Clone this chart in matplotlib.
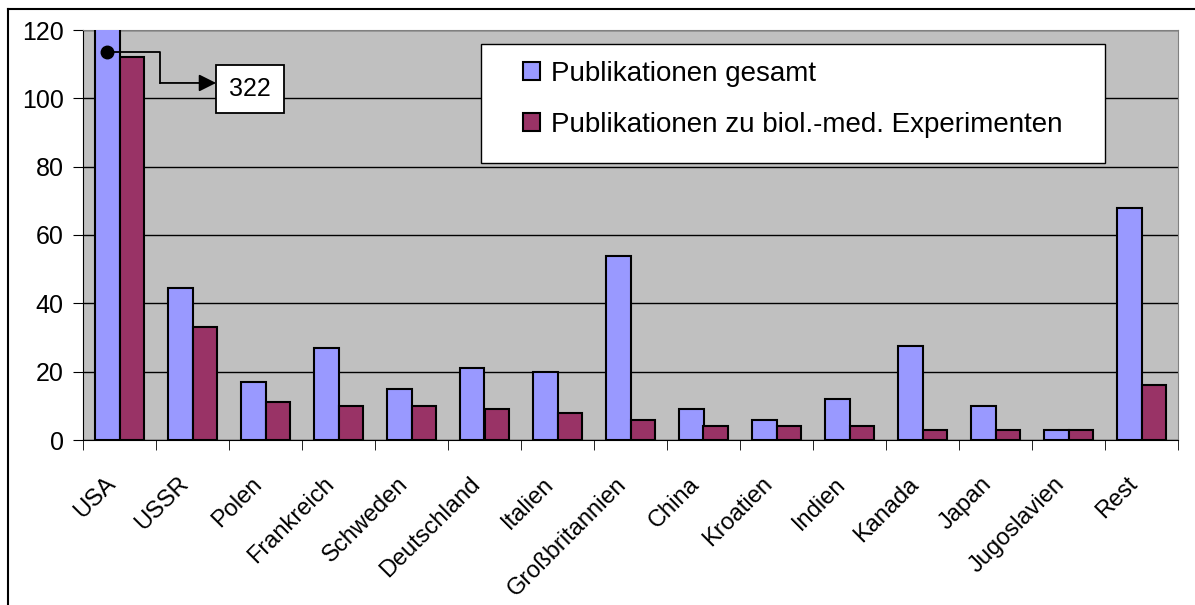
import matplotlib
matplotlib.use("Agg")
import matplotlib.pyplot as plt
import matplotlib.transforms as mtransforms
import numpy as np
from matplotlib.lines import Line2D
from matplotlib.patches import Rectangle

plt.rcParams["font.family"] = ["Liberation Sans", "DejaVu Sans"]

# data
countries = ["USA", "USSR", "Polen", "Frankreich", "Schweden", "Deutschland",
             "Italien", "Großbritannien", "China", "Kroatien", "Indien",
             "Kanada", "Japan", "Jugoslavien", "Rest"]
pub_total = [322, 44.5, 17, 27, 15, 21, 20, 54, 9, 6, 12, 27.5, 10, 3, 68]
pub_biomed = [112, 33, 11, 10, 10, 9, 8, 6, 4, 4, 4, 3, 3, 3, 16]
series_labels = ["Publikationen gesamt",
                 "Publikationen zu biol.-med. Experimenten"]
callout_text = "322"

BLUE = "#9999FF"
RED = "#993366"
GRAY = "#C0C0C0"
FS = 18

W, H = 1195, 605
fig = plt.figure(figsize=(W / 100, H / 100), dpi=100)
# outer chart frame (only top and left edge are inside the picture)
fig.add_artist(Line2D([8 / W, 1.0], [1 - 9 / H, 1 - 9 / H], color="black",
                      linewidth=1.5, transform=fig.transFigure))
fig.add_artist(Line2D([8 / W, 8 / W], [0.0, 1 - 9 / H], color="black",
                      linewidth=1.5, transform=fig.transFigure))

ax = fig.add_axes([83 / W, 165 / H, 1095 / W, 410 / H])
ax.set_facecolor(GRAY)

x = np.arange(len(countries))
bw = 0.342
ax.bar(x - bw / 2, pub_total, bw, color=BLUE, edgecolor="black",
       linewidth=1.5, label=series_labels[0], zorder=3)
ax.bar(x + bw / 2, pub_biomed, bw, color=RED, edgecolor="black",
       linewidth=1.5, label=series_labels[1], zorder=3)

ax.set_xlim(-0.5, len(countries) - 0.5)
ax.set_ylim(0, 120)
ax.set_yticks(np.arange(0, 121, 20))
ax.yaxis.grid(True, color="black", linewidth=1)
ax.set_axisbelow(True)
ax.tick_params(axis="y", labelsize=FS, length=7, direction="out", pad=7)

ax.set_xticks(x)
ax.set_xticklabels(countries, rotation=45, ha="right", va="top",
                   rotation_mode="anchor", fontsize=17)
ax.tick_params(axis="x", which="major", length=0, pad=0)
shift = mtransforms.ScaledTranslation(-15 / 100, -33 / 100, fig.dpi_scale_trans)
for lbl in ax.get_xticklabels():
    lbl.set_transform(lbl.get_transform() + shift)
ax.set_xticks(np.arange(-0.5, len(countries), 1), minor=True)
ax.tick_params(axis="x", which="minor", length=7, direction="out")

for s in ["top", "right"]:
    ax.spines[s].set_color("#808080")
for s in ["left", "bottom"]:
    ax.spines[s].set_color("black")

# callout for the clipped USA bar
dot_x = x[0] - bw / 2
dot_y = 113.5
elbow_x, elbow_y = 0.555, 104.5
box_cx, box_cy = 1.788, 102.7
box_w, box_h = 0.93, 14.0
ax.plot([dot_x, elbow_x, elbow_x], [dot_y, dot_y, elbow_y], color="black",
        linewidth=1.3, zorder=5)
ax.plot(dot_x, dot_y, "o", color="black", markersize=9, zorder=6)
ax.annotate("", xy=(box_cx - box_w / 2, elbow_y), xytext=(elbow_x, elbow_y),
            arrowprops=dict(arrowstyle="-|>", color="black", lw=1.3,
                            mutation_scale=26, shrinkA=0, shrinkB=0),
            zorder=6)
ax.add_patch(Rectangle((box_cx - box_w / 2, box_cy - box_h / 2), box_w, box_h,
                       facecolor="white", edgecolor="black", linewidth=1.3,
                       zorder=7))
ax.text(box_cx, box_cy, callout_text, fontsize=FS, ha="center",
        va="center", zorder=8)

# legend: white box drawn separately, entries placed inside it
ax.add_patch(Rectangle((0.3635, 0.676), 0.570, 0.290, transform=ax.transAxes,
                       facecolor="white", edgecolor="black", linewidth=1.0,
                       zorder=8))
leg = ax.legend(loc="upper left", bbox_to_anchor=(0.4018, 0.925),
                borderaxespad=0, borderpad=0, fontsize=20, frameon=False,
                labelspacing=0.9, handlelength=0.6, handleheight=0.6,
                handletextpad=0.4)
leg.set_zorder(9)

fig.savefig("out.png", dpi=100)
